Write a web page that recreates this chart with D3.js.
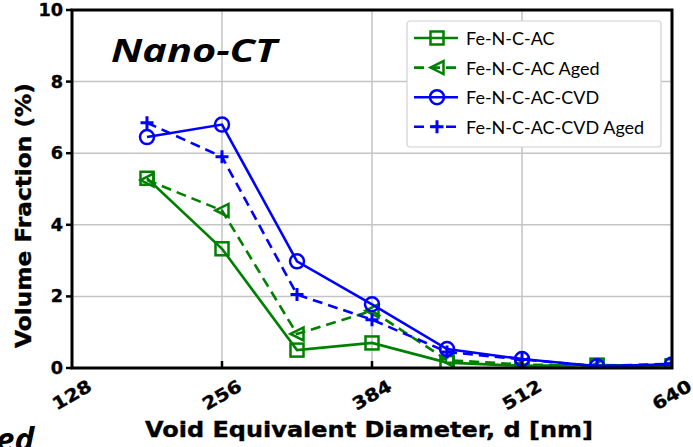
<!DOCTYPE html>
<html>
<head>
<meta charset="utf-8">
<script src="https://cdn.jsdelivr.net/npm/d3@7"></script>
<style>
  html, body { margin: 0; padding: 0; background: #fff; }
  svg { display: block; }
</style>
</head>
<body>
<svg id="chart" width="693" height="447"></svg>
<script>
// Void equivalent diameter bins (nm)
const diameters = [192, 256, 320, 384, 448, 512, 576, 640];

// Volume fraction (%) per sample
const feNCAC        = [5.30, 3.33, 0.50, 0.70, 0.15, 0.06, 0.08, 0.06];
const feNCACAged    = [5.25, 4.40, 0.95, 1.60, 0.22, 0.10, 0.05, 0.08];
const feNCACCVD     = [6.45, 6.80, 2.98, 1.78, 0.53, 0.25, 0.05, 0.10];
const feNCACCVDAged = [6.85, 5.90, 2.05, 1.35, 0.45, 0.24, 0.05, 0.12];

const seriesNames = ["Fe-N-C-AC", "Fe-N-C-AC Aged", "Fe-N-C-AC-CVD", "Fe-N-C-AC-CVD Aged"];
const xTicks = [128, 256, 384, 512, 640];
const yTicks = [0, 2, 4, 6, 8, 10];

const series = [
  { name: seriesNames[0], values: feNCAC,        color: "#008000", dashed: false, marker: "square" },
  { name: seriesNames[1], values: feNCACAged,    color: "#008000", dashed: true,  marker: "triangle" },
  { name: seriesNames[2], values: feNCACCVD,     color: "#0000ff", dashed: false, marker: "circle" },
  { name: seriesNames[3], values: feNCACCVDAged, color: "#0000ff", dashed: true,  marker: "plus" }
];

const svg = d3.select("#chart");
const plot = { left: 72, right: 672, top: 10, bottom: 368 };

const x = d3.scaleLinear().domain([128, 640]).range([plot.left, plot.right]);
const y = d3.scaleLinear().domain([0, 10]).range([plot.bottom, plot.top]);

// Grid
const grid = svg.append("g").attr("stroke", "#c4c4c4").attr("stroke-width", 1.5);
grid.selectAll("line.gx").data(xTicks.slice(1, -1)).join("line")
  .attr("x1", d => x(d)).attr("x2", d => x(d))
  .attr("y1", plot.top).attr("y2", plot.bottom);
grid.selectAll("line.gy").data(yTicks.slice(1, -1)).join("line")
  .attr("x1", plot.left).attr("x2", plot.right)
  .attr("y1", d => y(d)).attr("y2", d => y(d));

// Clip region for data
svg.append("clipPath").attr("id", "plotClip").append("rect")
  .attr("x", plot.left).attr("y", plot.top)
  .attr("width", plot.right - plot.left).attr("height", plot.bottom - plot.top);

const lineGen = d3.line().x((d, i) => x(diameters[i])).y(d => y(d));

function drawMarker(g, type, color) {
  const s = 6.5;
  if (type === "square") {
    g.append("rect").attr("x", -s).attr("y", -s).attr("width", 2 * s).attr("height", 2 * s)
      .attr("fill", "none").attr("stroke", color).attr("stroke-width", 2.5);
  } else if (type === "circle") {
    g.append("circle").attr("r", 7).attr("fill", "none")
      .attr("stroke", color).attr("stroke-width", 2.5);
  } else if (type === "triangle") {
    g.append("path").attr("d", `M${-s},0 L${s},${-s} L${s},${s} Z`)
      .attr("fill", "none").attr("stroke", color).attr("stroke-width", 2.5)
      .attr("stroke-linejoin", "miter");
  } else if (type === "plus") {
    g.append("path").attr("d", `M${-s},0 H${s} M0,${-s} V${s}`)
      .attr("fill", "none").attr("stroke", color).attr("stroke-width", 3);
  }
}

const dataLayer = svg.append("g").attr("clip-path", "url(#plotClip)");
series.forEach(s => {
  const g = dataLayer.append("g");
  g.append("path").datum(s.values)
    .attr("d", lineGen)
    .attr("fill", "none")
    .attr("stroke", s.color)
    .attr("stroke-width", 2.6)
    .attr("stroke-dasharray", s.dashed ? "10,6" : null);
  s.values.forEach((v, i) => {
    const m = g.append("g").attr("transform", `translate(${x(diameters[i])},${y(v)})`);
    drawMarker(m, s.marker, s.color);
  });
});

// Frame
svg.append("rect")
  .attr("x", plot.left).attr("y", plot.top)
  .attr("width", plot.right - plot.left).attr("height", plot.bottom - plot.top)
  .attr("fill", "none").attr("stroke", "#000").attr("stroke-width", 3);

const boldSans = "DejaVu Sans";

// Heavier bold text helper
function heavy(sel) {
  return sel.attr("font-family", boldSans).attr("font-weight", "bold")
    .attr("fill", "#000").attr("stroke", "#000").attr("stroke-width", 0.35);
}

// Y ticks and labels
const yAxis = svg.append("g");
yAxis.selectAll("line").data(yTicks).join("line")
  .attr("x1", plot.left - 6).attr("x2", plot.left)
  .attr("y1", d => y(d)).attr("y2", d => y(d))
  .attr("stroke", "#000").attr("stroke-width", 2.5);
heavy(yAxis.selectAll("text").data(yTicks).join("text"))
  .attr("x", plot.left - 9).attr("y", d => y(d))
  .attr("text-anchor", "end").attr("dominant-baseline", "central")
  .attr("font-size", 17.5)
  .attr("textLength", d => String(d).length * 12.3)
  .attr("lengthAdjust", "spacingAndGlyphs")
  .text(d => d);

// X ticks (inward) and rotated labels
const xAxis = svg.append("g");
xAxis.selectAll("line").data(xTicks.slice(1, -1)).join("line")
  .attr("x1", d => x(d)).attr("x2", d => x(d))
  .attr("y1", plot.bottom - 7).attr("y2", plot.bottom)
  .attr("stroke", "#000").attr("stroke-width", 2.5);
heavy(xAxis.selectAll("text").data(xTicks).join("text"))
  .attr("transform", d => `translate(${x(d)},${395}) rotate(-30)`)
  .attr("text-anchor", "middle").attr("dominant-baseline", "central")
  .attr("font-size", 17.5)
  .attr("textLength", 42)
  .attr("lengthAdjust", "spacingAndGlyphs")
  .text(d => d);

// Axis titles
heavy(svg.append("text"))
  .attr("x", 145).attr("y", 437)
  .attr("font-size", 21)
  .attr("textLength", 448).attr("lengthAdjust", "spacingAndGlyphs")
  .text("Void Equivalent Diameter, d [nm]");

heavy(svg.append("text"))
  .attr("transform", "translate(31,348) rotate(-90)")
  .attr("font-size", 21)
  .attr("textLength", 265).attr("lengthAdjust", "spacingAndGlyphs")
  .text("Volume Fraction (%)");

// Panel title
svg.append("text")
  .attr("x", 111).attr("y", 62)
  .attr("font-family", "Open Sans").attr("font-weight", "bold").attr("font-style", "italic")
  .attr("font-size", 32)
  .attr("textLength", 166).attr("lengthAdjust", "spacingAndGlyphs")
  .text("Nano-CT");

// Neighbouring caption fragment at the lower-left edge
svg.append("text")
  .attr("x", 34).attr("y", 451)
  .attr("text-anchor", "end")
  .attr("font-family", "Open Sans").attr("font-weight", "bold").attr("font-style", "italic")
  .attr("font-size", 33)
  .text("ed");

// Legend
const legend = svg.append("g").attr("transform", "translate(407,21)");
legend.append("rect")
  .attr("width", 254).attr("height", 126).attr("rx", 3)
  .attr("fill", "#fff").attr("stroke", "#d0d0d0").attr("stroke-width", 1.2);
series.forEach((s, i) => {
  const row = legend.append("g").attr("transform", `translate(0,${17 + i * 29.6})`);
  row.append("line").attr("x1", 7).attr("x2", 51).attr("y1", 0).attr("y2", 0)
    .attr("stroke", s.color).attr("stroke-width", 2.6)
    .attr("stroke-dasharray", s.dashed ? "10,6" : null);
  const m = row.append("g").attr("transform", "translate(30,0)");
  drawMarker(m, s.marker, s.color);
  row.append("text").attr("x", 59).attr("y", 0)
    .attr("dominant-baseline", "central")
    .attr("font-family", "Lato").attr("font-size", 18)
    .text(s.name);
});
</script>
</body>
</html>
